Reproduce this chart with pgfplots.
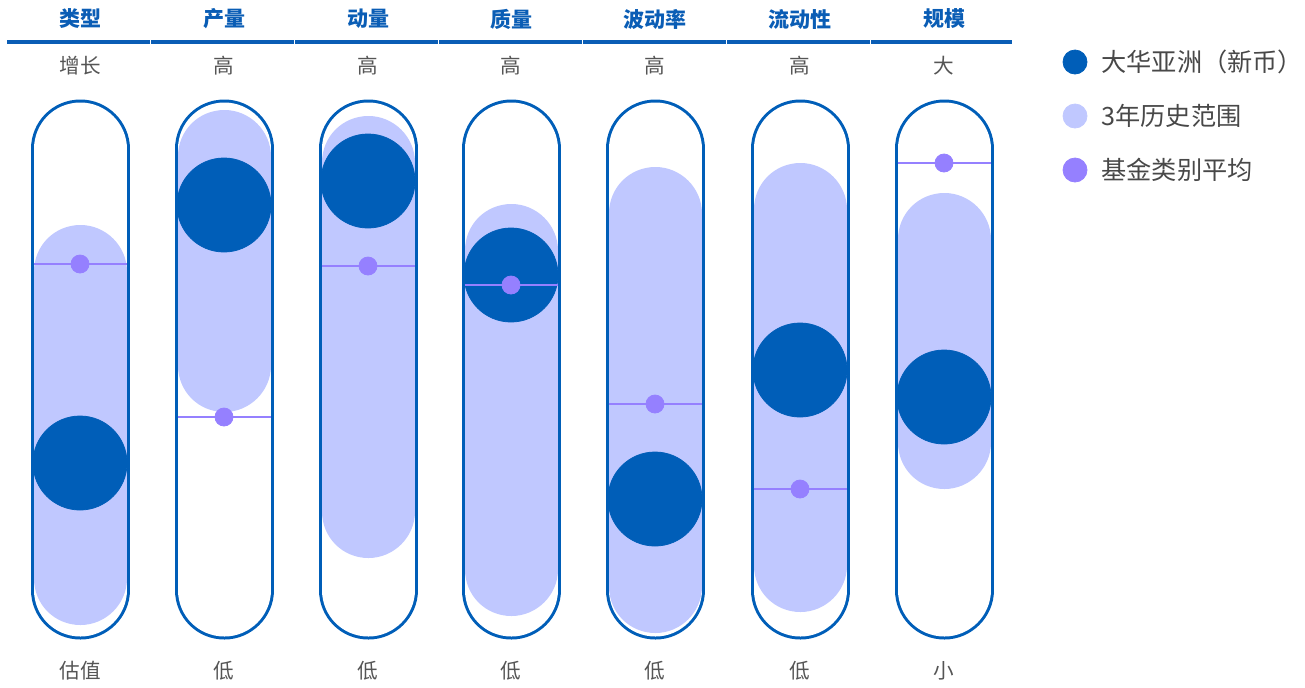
\documentclass[border=0pt]{standalone}
\usepackage{pgfplots}
\pgfplotsset{compat=1.18}
\usepackage{fontspec}
\setmainfont{Noto Sans CJK SC}
\definecolor{fund}{RGB}{0,94,184}
\definecolor{rangec}{RGB}{192,200,255}
\definecolor{avgc}{RGB}{149,128,255}
\definecolor{hdr}{RGB}{10,93,181}
\definecolor{lbl}{RGB}{85,85,85}
\begin{document}
\begin{tikzpicture}
\begin{axis}[
  scale only axis, width=652.5pt, height=343.5pt,
  xmin=0, xmax=1305, ymin=0, ymax=687, y dir=reverse,
  hide axis, clip=true, clip marker paths=true, unbounded coords=jump,
]
% bounding
\addplot[draw=none, forget plot] coordinates {(0,0) (1305,687)};
% header line segments
\addplot[hdr, line width=1.6pt] coordinates {
 (7,42)(150,42) (nan,nan) (151,42)(294,42) (nan,nan) (295,42)(438,42) (nan,nan)
 (439,42)(582,42) (nan,nan) (583,42)(726,42) (nan,nan) (727,42)(870,42) (nan,nan) (871,42)(1012,42)};
% capsule outlines
\addplot[fund, line width=49.5pt, line cap=round] coordinates {
 (80,149)(80,590) (nan,nan) (224,149)(224,590) (nan,nan) (368,149)(368,590) (nan,nan)
 (511,149)(511,590) (nan,nan) (655,149)(655,590) (nan,nan) (800,149)(800,590) (nan,nan) (944,149)(944,590)};
\addplot[white, line width=46.5pt, line cap=round] coordinates {
 (80,149)(80,590) (nan,nan) (224,149)(224,590) (nan,nan) (368,149)(368,590) (nan,nan)
 (511,149)(511,590) (nan,nan) (655,149)(655,590) (nan,nan) (800,149)(800,590) (nan,nan) (944,149)(944,590)};
% 3-year ranges
\addplot[rangec, line width=46.5pt, line cap=round] coordinates {
 (80,271.5)(80,578.5) (nan,nan)
 (224,156.5)(224,365.5) (nan,nan)
 (368,162.5)(368,511.5) (nan,nan)
 (511,250.5)(511,569.5) (nan,nan)
 (655,213.5)(655,586.5) (nan,nan)
 (800,209.5)(800,565.5) (nan,nan)
 (944,239.5)(944,442.5)};
% fund
\addplot[fund, only marks, mark=*, mark size=23.5pt, mark options={draw=none, fill=fund}] coordinates {
 (80,463) (224,205) (368,181) (511,275) (655,499) (800,370) (944,397)};
% category average lines
\addplot[avgc, line width=1.4pt] coordinates {
 (33.5,264)(126.5,264) (nan,nan) (177.5,417)(270.5,417) (nan,nan) (321.5,266)(414.5,266) (nan,nan)
 (464.5,285)(557.5,285) (nan,nan) (608.5,404)(701.5,404) (nan,nan) (753.5,489)(846.5,489) (nan,nan) (897.5,163)(990.5,163)};
\addplot[avgc, only marks, mark=*, mark size=4.5pt, mark options={draw=none, fill=avgc}] coordinates {
 (80,264) (224,417) (368,266) (511,285) (655,404) (800,489) (944,163)};
% legend markers
\addplot[fund, only marks, mark=*, mark size=6pt, mark options={draw=none, fill=fund}] coordinates {(1075,62)};
\addplot[rangec, only marks, mark=*, mark size=6pt, mark options={draw=none, fill=rangec}] coordinates {(1075,116)};
\addplot[avgc, only marks, mark=*, mark size=6pt, mark options={draw=none, fill=avgc}] coordinates {(1075,170)};
% texts
\begin{scope}[every node/.style={font=\fontsize{10.5pt}{12pt}\selectfont\bfseries, text=hdr, inner sep=0pt}]
\node at (axis cs:80,19) {类型};
\node at (axis cs:224,19) {产量};
\node at (axis cs:368,19) {动量};
\node at (axis cs:511,19) {质量};
\node at (axis cs:655,19) {波动率};
\node at (axis cs:800,19) {流动性};
\node at (axis cs:944,19) {规模};
\end{scope}
\begin{scope}[every node/.style={font=\fontsize{10.3pt}{12pt}\selectfont, text=lbl, inner sep=0pt}]
\node at (axis cs:80,66) {增长};
\node at (axis cs:224,66) {高};
\node at (axis cs:368,66) {高};
\node at (axis cs:511,66) {高};
\node at (axis cs:655,66) {高};
\node at (axis cs:800,66) {高};
\node at (axis cs:944,66) {大};
\node at (axis cs:80,671) {估值};
\node at (axis cs:224,671) {低};
\node at (axis cs:368,671) {低};
\node at (axis cs:511,671) {低};
\node at (axis cs:655,671) {低};
\node at (axis cs:800,671) {低};
\node at (axis cs:944,671) {小};
\end{scope}
\begin{scope}[every node/.style={font=\fontsize{12.6pt}{14pt}\selectfont, text=lbl!85!black, inner sep=0pt, anchor=west}]
\node at (axis cs:1101,62) {大华亚洲（新币）};
\node at (axis cs:1101,116) {3年历史范围};
\node at (axis cs:1101,170) {基金类别平均};
\end{scope}
\end{axis}
\end{tikzpicture}
\end{document}
